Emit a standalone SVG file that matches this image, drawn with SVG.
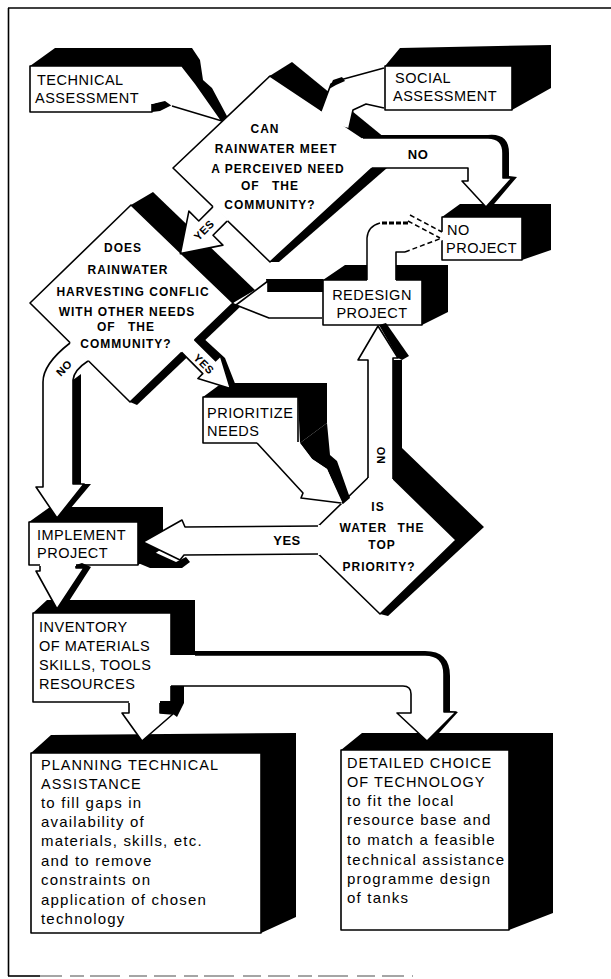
<svg xmlns="http://www.w3.org/2000/svg" width="611" height="979" viewBox="0 0 611 979">
<style>
.w{fill:#fff;stroke:#000;stroke-width:1.6;stroke-linejoin:round}
.wf{fill:#fff;stroke:none}
.o{fill:none;stroke:#000;stroke-width:1.6;stroke-linejoin:round}
.k{fill:#000;stroke:none}
.bt{font-family:"Liberation Sans",Arial,sans-serif;font-size:14.5px;letter-spacing:0.5px;fill:#000}
.bw{font-family:"Liberation Sans",Arial,sans-serif;font-size:14.5px;letter-spacing:1px;fill:#000}
.dt{font-family:"Liberation Sans",Arial,sans-serif;font-size:12px;font-weight:bold;letter-spacing:1px;fill:#000;text-anchor:middle}
.lt{font-family:"Liberation Sans",Arial,sans-serif;font-size:15px;letter-spacing:1.2px;fill:#000}
.lb{font-family:"Liberation Sans",Arial,sans-serif;font-size:11px;font-weight:bold;letter-spacing:0.5px;fill:#000;text-anchor:middle}
.ln{fill:none;stroke:#000;stroke-width:1.6}
.gh{fill:none;stroke:#000;stroke-width:1.5;stroke-dasharray:5 3}
</style>
<rect width="611" height="979" fill="#fff"/>

<g id="frame">
<line class="ln" x1="8.5" y1="8" x2="8.5" y2="976"/>
<line class="ln" x1="8" y1="8" x2="611" y2="8"/>
<line class="ln" x1="8" y1="976" x2="40" y2="976"/>
<line x1="40" y1="976" x2="413" y2="976" stroke="#888" stroke-width="1.5" stroke-dasharray="22 8 14 6 30 9 18 7"/>
</g>

<g id="technical-assessment">
<polygon class="k" points="30,66 55,48 192,48 200,60 203,80 212,88 228,118 222,121 196,84 182,66"/>
<path class="w" d="M152,104 L152,112 L30,112 L30,66 L152,66"/>
<polygon class="k" points="152,104 165,100 172,105 160,111 152,112"/>
<text class="bt" x="37" y="85">TECHNICAL</text>
<text class="bt" x="35" y="103">ASSESSMENT</text>
</g>

<g id="social-assessment">
<polygon class="k" points="385,66 400,48 551,45 551,88 512,110 512,66"/>
<rect class="w" x="385" y="66" width="127" height="44"/>
<text class="bt" x="395" y="83">SOCIAL</text>
<text class="bt" x="393" y="101">ASSESSMENT</text>
</g>

<g id="decision-perceived-need">
<polygon class="k" points="268,77 292,62 385,138 363,138"/>
<polygon class="k" points="270,262 279,262 387,168 371,168"/>
<path class="w" d="M363,138 L270,76 L173,168 L270,262 L372,168"/>
<text class="dt" x="265" y="133">CAN</text>
<text class="dt" x="276" y="153">RAINWATER MEET</text>
<text class="dt" x="278" y="173">A PERCEIVED NEED</text>
<text class="dt" x="270" y="190" word-spacing="8">OF THE</text>
<text class="dt" x="270" y="209">COMMUNITY?</text>
</g>

<g id="decision-conflict">
<polygon class="k" points="131,205 153,192 255,290 233,303"/>
<polygon class="k" points="233,303 241,306 137,405 130,402"/>
<polygon class="w" points="131,205 233,303 130,402 30,303"/>
<text class="dt" x="123" y="252">DOES</text>
<text class="dt" x="128" y="274">RAINWATER</text>
<text class="dt" x="133" y="296">HARVESTING CONFLIC</text>
<text class="dt" x="127" y="316">WITH OTHER NEEDS</text>
<text class="dt" x="126" y="331" word-spacing="8">OF THE</text>
<text class="dt" x="126" y="348">COMMUNITY?</text>
</g>

<g id="redesign-project">
<polygon class="k" points="323,280 345,265 448,265 448,312 422,325 422,280"/>
<rect class="w" x="323" y="280" width="99" height="45"/>
<text class="bt" x="372" y="300" text-anchor="middle">REDESIGN</text>
<text class="bt" x="372" y="318" text-anchor="middle">PROJECT</text>
</g>

<g id="no-project">
<polygon class="k" points="442,217 460,204 551,204 551,250 522,260 522,217"/>
<rect class="w" x="442" y="217" width="80" height="43"/>
<text class="bt" x="447" y="235">NO</text>
<text class="bt" x="446" y="253">PROJECT</text>
</g>

<g id="prioritize-needs">
<polygon class="k" points="203,397 222,383 327,383 327,423 300,443 298,397"/>
<path class="w" d="M257,443 L203,443 L203,397 L298,397 L298,443"/>
<text class="bt" x="207" y="418">PRIORITIZE</text>
<text class="bt" x="207" y="436">NEEDS</text>
</g>

<g id="decision-top-priority">
<polygon class="k" points="393,360 402,360 402,448 484,527 388,616 380,614 456,540 393,479"/>
<polygon class="w" points="380,466 456,540 380,614 304,540"/>
<text class="dt" x="378" y="511">IS</text>
<text class="dt" x="382" y="532" word-spacing="6">WATER THE</text>
<text class="dt" x="382" y="549">TOP</text>
<text class="dt" x="379" y="571">PRIORITY?</text>
</g>

<g id="implement-project">
<polygon class="k" points="29,522 50,507 163,507 163,548 138,565 138,522"/>
<rect class="w" x="29" y="522" width="109" height="43"/>
<text class="bt" x="37" y="540">IMPLEMENT</text>
<text class="bt" x="37" y="558">PROJECT</text>
</g>

<g id="inventory">
<polygon class="k" points="33,613 47,600 195,600 195,655 171,655 171,613"/>
<path class="w" d="M171,655 L171,613 L33,613 L33,702 L171,702 L171,686"/>
<text class="bt" x="39" y="632">INVENTORY</text>
<text class="bt" x="39" y="651">OF MATERIALS</text>
<text class="bt" x="39" y="670">SKILLS, TOOLS</text>
<text class="bt" x="39" y="689">RESOURCES</text>
</g>

<g id="planning-technical-assistance">
<polygon class="k" points="31,753 51,735 296,733 296,917 261,933 261,753"/>
<rect class="w" x="31" y="753" width="230" height="180"/>
<text class="bw" x="41" y="770">PLANNING TECHNICAL</text>
<text class="bw" x="41" y="789">ASSISTANCE</text>
<text class="lt" x="41" y="808">to fill gaps in</text>
<text class="lt" x="41" y="827">availability of</text>
<text class="lt" x="41" y="846">materials, skills, etc.</text>
<text class="lt" x="41" y="866">and to remove</text>
<text class="lt" x="41" y="885">constraints on</text>
<text class="lt" x="41" y="905">application of chosen</text>
<text class="lt" x="41" y="924">technology</text>
</g>

<g id="detailed-choice">
<polygon class="k" points="341,750 362,733 553,733 553,913 509,930 509,750"/>
<rect class="w" x="341" y="750" width="168" height="180"/>
<text class="bw" x="347" y="768">DETAILED CHOICE</text>
<text class="bw" x="347" y="787">OF TECHNOLOGY</text>
<text class="lt" x="347" y="806">to fit the local</text>
<text class="lt" x="347" y="825">resource base and</text>
<text class="lt" x="347" y="845">to match a feasible</text>
<text class="lt" x="347" y="865">technical assistance</text>
<text class="lt" x="347" y="884">programme design</text>
<text class="lt" x="347" y="903">of tanks</text>
</g>

<g id="connectors">
<!-- technical assessment -> decision 1 -->
<polygon class="wf" points="150,67 182,67 196,84 222,121 172,106 165,101 152,104 150,104"/>
<polyline class="o" points="152,66 182,66 196,84 222,121 172,106"/>

<!-- social assessment -> decision 1 -->
<polygon class="wf" points="384,68 340,80 331,84 321,111 333,124 349,128 353,110 366,104 384,108"/>
<polyline class="o" points="384,68 340,80 331,84 321,111"/>
<polyline class="o" points="349,128 353,110 366,104 384,108"/>
<polygon class="k" points="329,89 333,80 342,77 345,81 336,85"/>

<!-- decision 1 NO -> no project -->
<path class="k" d="M380,135 L488,135 Q509,133 509,153 L509,176 L517,177 L489,210 L486,207 L512,178 L503,178 L503,153 Q503,138 488,138 L380,138 Z"/>
<path class="wf" d="M362,138 L488,138 Q503,138 503,153 L503,178 L512,178 L486,207 L462,181 L468,181 L468,168 L372,168 L368,150 Z"/>
<path class="o" d="M363,138 L488,138 Q503,138 503,153 L503,178 L512,178 L486,207 L462,181 L468,181 L468,168 L372,168"/>
<text class="lb" x="418" y="159" style="font-size:13px">NO</text>

<!-- decision 1 YES -> decision 2 -->
<polygon class="wf" points="214.3,205.5 198.8,221 188.9,211.1 180.4,253.6 222.9,245.1 213,235.2 228.5,219.7"/>
<polyline class="o" points="212.9,206.9 198.8,221 188.9,211.1 180.4,253.6 222.9,245.1 213,235.2 227.1,221.1"/>
<text class="lb" transform="translate(204,230) rotate(-45)" y="4">YES</text>

<!-- redesign -> decision 2 -->
<polygon class="k" points="266,279 323,279 323,292 268,292"/>
<polygon class="wf" points="236,305 268,281 268,292 322,292 322,318 269,318"/>
<polyline class="o" points="322,318 269,318 236,305 268,281 268,292"/>

<!-- ghost connector redesign <-> no project -->
<path class="wf" d="M367,281 L367,238 Q368,224 382,222 L410,214 L443,232 L443,240 L405,252 L396,252 L396,281 Z"/>
<path class="ln" style="stroke-width:1.5" d="M367,280 L367,238 Q368,226 380,223"/>
<line x1="382" y1="223" x2="408" y2="223" stroke="#000" stroke-width="3" stroke-dasharray="5 2"/>
<line class="gh" x1="410" y1="215" x2="442" y2="232"/>
<line class="gh" x1="408" y1="221" x2="440" y2="238"/>
<polyline class="o" points="396,280 396,252 405,252"/>
<line class="gh" x1="405" y1="252" x2="442" y2="238"/>

<!-- decision 2 YES -> prioritize -->
<polygon class="k" points="194.4,339.6 201,336 225,358 236,386 230.4,388.4 220.5,355.9 215.6,360.8"/>
<polygon class="wf" points="192.3,337.5 215.6,360.8 220.5,355.9 230.4,388.4 197.9,378.5 202.8,373.6 179.5,350.3"/>
<polyline class="o" points="194.4,339.6 215.6,360.8 220.5,355.9 230.4,388.4 197.9,378.5 202.8,373.6 181.6,352.4"/>
<text class="lb" transform="translate(204,364) rotate(45)" y="4">YES</text>

<!-- decision 2 NO -> implement -->
<path class="k" d="M73,380 L81,374 L81,484 L91,484 L60,521 L57,518 L84,484 L73,484 Z"/>
<path class="wf" d="M70,343 Q43,364 43,382 L43,487 L36,487 L57,518 L84,484 L73,484 L73,380 Q74,370 88,361 L89.4,359.6 L71.4,341.6 Z"/>
<path class="o" d="M70,343 Q43,364 43,382 L43,487 L36,487 L57,518 L84,484 L73,484 L73,380 Q74,370 88,361"/>
<text class="lb" transform="translate(64,368) rotate(-45)" y="4">NO</text>

<!-- prioritize -> decision 3 -->
<polygon class="k" points="300,443 327,423 330,455 337,461 350,498 343,504 327,469 312,459"/>
<polygon class="wf" points="257,442 303,493 301,498 342,504 327,469 312,459 299,442"/>
<polyline class="o" points="257,443 303,493 301,498 341,503"/>

<!-- decision 3 NO -> redesign -->
<polygon class="k" points="379,325 386,323 409,356 402,360 398,358"/>
<polygon class="wf" points="368,479 368,360 358,360 378,326 398,358 393,358 393,480 380,488"/>
<polyline class="o" points="368,478 368,360 358,360 378,326 398,358 393,358 393,479"/>
<text class="lb" transform="translate(381,455) rotate(-90)" y="4">NO</text>

<!-- decision 3 YES -> implement -->
<polygon class="k" points="141,546 176,562 186,557 190,562 182,568 150,568 138,563"/>
<polygon class="wf" points="320,525 185,527 182,520 143,542 180,560 184,555 320,555"/>
<polyline class="o" points="318,526 185,527 182,520 143,542 180,560 184,555 318,554"/>
<text class="lb" x="287" y="545" style="font-size:13px">YES</text>

<!-- implement -> inventory -->
<polygon class="k" points="76,565 82,563 91,567 62,612 57,609 84,568 76,568"/>
<polygon class="wf" points="40,564 40,571 36,571 57,609 84,568 76,568 76,564"/>
<polyline class="o" points="40,566 40,571 36,571 57,609 84,568 76,568 76,566"/>

<!-- inventory -> planning -->
<polygon class="k" points="160,701 171,701 171,686 184,686 184,703 177,717 173,714 160,713"/>
<polygon class="wf" points="129,700 129,713 122,713 142,741 173,714 160,713 160,700"/>
<polyline class="o" points="129,703 129,713 122,713 142,741 173,714 160,713 160,703"/>

<!-- inventory -> detailed choice -->
<path class="k" d="M195,651 L425,651 Q450,651 450,676 L450,711 L458,712 L430,743 L427,741 L456,712 L444,712 L444,674 Q444,655 425,655 L195,655 Z"/>
<path class="wf" d="M171,655 L425,655 Q444,655 444,674 L444,712 L456,712 L427,741 L397,713 L411,713 L411,694 Q411,686 403,686 L171,686 Z"/>
<path class="o" d="M195,655 L425,655 Q444,655 444,674 L444,712 L456,712 L427,741 L397,713 L411,713 L411,694 Q411,686 403,686 L171,686"/>
</g>
</svg>
